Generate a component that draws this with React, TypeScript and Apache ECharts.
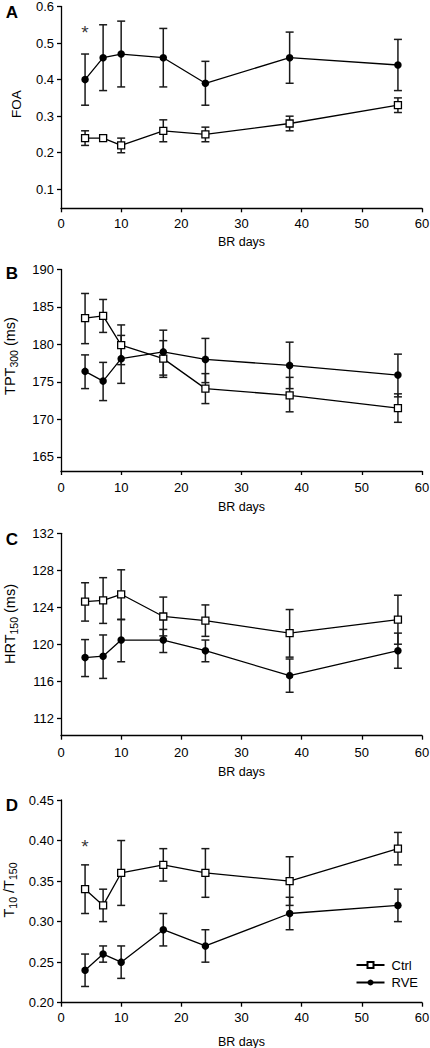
import React, { useEffect, useRef } from "react";
import * as echarts from "echarts";

const FONT = "'Liberation Sans', Arial, Helvetica, sans-serif";

// x categories (bed-rest days)
const days = [4, 7, 10, 17, 24, 38, 56];
const xTicks = [0, 10, 20, 30, 40, 50, 60];

// Panel A: FOA
const foaCtrl = [0.24, 0.24, 0.22, 0.26, 0.25, 0.28, 0.33];
const foaCtrlLow = [0.22, 0.234, 0.2, 0.23, 0.23, 0.26, 0.31];
const foaCtrlHigh = [0.26, 0.246, 0.24, 0.29, 0.27, 0.3, 0.35];
const foaRve = [0.4, 0.46, 0.47, 0.46, 0.39, 0.46, 0.44];
const foaRveLow = [0.33, 0.37, 0.38, 0.38, 0.33, 0.39, 0.37];
const foaRveHigh = [0.47, 0.55, 0.56, 0.54, 0.45, 0.53, 0.51];
const foaTicks = [0.1, 0.2, 0.3, 0.4, 0.5, 0.6];
const foaStar = [[4, 0.54]];

// Panel B: TPT300 (ms)
const tptCtrl = [183.5, 183.8, 179.9, 178.1, 174.1, 173.2, 171.5];
const tptCtrlLow = [180.1, 181.6, 177.3, 175.6, 172.1, 171.0, 169.6];
const tptCtrlHigh = [186.8, 186.0, 182.6, 180.5, 176.1, 175.6, 173.4];
const tptRve = [176.4, 175.1, 178.1, 179.0, 178.0, 177.2, 175.9];
const tptRveLow = [174.1, 172.5, 174.8, 175.9, 174.9, 174.1, 173.0];
const tptRveHigh = [178.6, 177.6, 181.2, 181.9, 180.8, 180.3, 178.7];
const tptTicks = [165, 170, 175, 180, 185, 190];

// Panel C: HRT150 (ms)
const hrtCtrl = [124.6, 124.75, 125.4, 123.0, 122.55, 121.2, 122.65];
const hrtCtrlLow = [122.5, 122.25, 122.7, 120.9, 120.85, 118.6, 120.0];
const hrtCtrlHigh = [126.65, 127.2, 128.05, 125.1, 124.25, 123.75, 125.3];
const hrtRve = [118.55, 118.7, 120.45, 120.45, 119.3, 116.6, 119.3];
const hrtRveLow = [116.5, 116.3, 118.1, 119.1, 118.1, 114.8, 117.4];
const hrtRveHigh = [120.5, 121.0, 122.65, 121.6, 120.45, 118.4, 121.2];
const hrtTicks = [112, 116, 120, 124, 128, 132];

// Panel D: T10/T150
const tRatioCtrl = [0.34, 0.32, 0.36, 0.37, 0.36, 0.35, 0.39];
const tRatioCtrlLow = [0.31, 0.3, 0.32, 0.35, 0.33, 0.32, 0.37];
const tRatioCtrlHigh = [0.37, 0.34, 0.4, 0.39, 0.39, 0.38, 0.41];
const tRatioRve = [0.24, 0.26, 0.25, 0.29, 0.27, 0.31, 0.32];
const tRatioRveLow = [0.22, 0.25, 0.23, 0.27, 0.25, 0.29, 0.3];
const tRatioRveHigh = [0.26, 0.27, 0.27, 0.31, 0.29, 0.33, 0.34];
const tRatioTicks = [0.2, 0.25, 0.3, 0.35, 0.4, 0.45];
const tRatioStar = [[4, 0.397]];

const legendNames = ["Ctrl", "RVE"];

type Panel = {
  top: number;
  height: number;
  min: number;
  max: number;
  ticks: number[];
  dec: number;
  labelMargin: number;
  nameGap: number;
  ctrl: number[];
  ctrlLow: number[];
  ctrlHigh: number[];
  rve: number[];
  rveLow: number[];
  rveHigh: number[];
  star?: number[][];
};

const panels: Panel[] = [
  { top: 6.5, height: 201.8, min: 0.048, max: 0.6, ticks: foaTicks, dec: 1, labelMargin: 8.5, nameGap: 27,
    ctrl: foaCtrl, ctrlLow: foaCtrlLow, ctrlHigh: foaCtrlHigh, rve: foaRve, rveLow: foaRveLow, rveHigh: foaRveHigh, star: foaStar },
  { top: 269.5, height: 201.5, min: 163.1, max: 190, ticks: tptTicks, dec: 0, labelMargin: 10, nameGap: 29,
    ctrl: tptCtrl, ctrlLow: tptCtrlLow, ctrlHigh: tptCtrlHigh, rve: tptRve, rveLow: tptRveLow, rveHigh: tptRveHigh },
  { top: 533.3, height: 202.4, min: 110.1, max: 132, ticks: hrtTicks, dec: 0, labelMargin: 10.5, nameGap: 29.5,
    ctrl: hrtCtrl, ctrlLow: hrtCtrlLow, ctrlHigh: hrtCtrlHigh, rve: hrtRve, rveLow: hrtRveLow, rveHigh: hrtRveHigh },
  { top: 800, height: 202.7, min: 0.2, max: 0.45, ticks: tRatioTicks, dec: 2, labelMargin: 8, nameGap: 32.5,
    ctrl: tRatioCtrl, ctrlLow: tRatioCtrlLow, ctrlHigh: tRatioCtrlHigh, rve: tRatioRve, rveLow: tRatioRveLow, rveHigh: tRatioRveHigh, star: tRatioStar },
];

const AX = { color: "#000", width: 1.3 };

function errorSeries(name: string, lo: number[], hi: number[], idx: number) {
  return {
    type: "custom",
    name,
    xAxisIndex: idx,
    yAxisIndex: idx,
    z: 1,
    silent: true,
    data: days.map((d, i) => [d, lo[i], hi[i]]),
    encode: { x: 0, y: [1, 2] },
    renderItem: (_params: any, api: any) => {
      const x = api.value(0);
      const pl = api.coord([x, api.value(1)]);
      const ph = api.coord([x, api.value(2)]);
      const w = 4;
      const style = { stroke: "#1a1a1a", lineWidth: 1.5, fill: "none" };
      return {
        type: "group",
        children: [
          { type: "line", shape: { x1: ph[0], y1: ph[1], x2: pl[0], y2: pl[1] }, style },
          { type: "line", shape: { x1: ph[0] - w, y1: ph[1], x2: ph[0] + w, y2: ph[1] }, style },
          { type: "line", shape: { x1: pl[0] - w, y1: pl[1], x2: pl[0] + w, y2: pl[1] }, style },
        ],
      };
    },
  };
}

function buildOption() {
  const grid: any[] = [];
  const xAxis: any[] = [];
  const yAxis: any[] = [];
  const series: any[] = [];

  panels.forEach((p, idx) => {
    grid.push({ left: 61, width: 361, top: p.top, height: p.height, containLabel: false, outerBoundsMode: "none" });
    xAxis.push({
      type: "value",
      gridIndex: idx,
      min: 0,
      max: 60,
      interval: 10,
      name: "BR days",
      nameLocation: "middle",
      nameGap: p.nameGap,
      nameTextStyle: { fontFamily: FONT, fontSize: 12.5, color: "#000" },
      axisLine: { show: true, onZero: false, lineStyle: AX },
      axisTick: { show: true, inside: false, length: 4, customValues: xTicks, lineStyle: AX },
      axisLabel: { customValues: xTicks, margin: p.labelMargin, fontFamily: FONT, fontSize: 13, color: "#000" },
      splitLine: { show: false },
    });
    yAxis.push({
      type: "value",
      gridIndex: idx,
      min: p.min,
      max: p.max,
      axisLine: { show: true, onZero: false, lineStyle: AX },
      axisTick: { show: true, inside: false, length: 4, customValues: p.ticks, lineStyle: AX },
      axisLabel: {
        customValues: p.ticks,
        formatter: (v: number) => v.toFixed(p.dec),
        margin: 7,
        fontFamily: FONT,
        fontSize: 13,
        color: "#000",
      },
      splitLine: { show: false },
    });

    series.push(errorSeries("Ctrl error", p.ctrlLow, p.ctrlHigh, idx));
    series.push(errorSeries("RVE error", p.rveLow, p.rveHigh, idx));
    series.push({
      type: "line",
      name: "Ctrl",
      xAxisIndex: idx,
      yAxisIndex: idx,
      z: 3,
      data: days.map((d, i) => [d, p.ctrl[i]]),
      symbol: "rect",
      symbolSize: 7,
      showAllSymbol: true,
      itemStyle: { color: "#fff", borderColor: "#000", borderWidth: 1.3 },
      lineStyle: { color: "#000", width: 1.3 },
    });
    series.push({
      type: "line",
      name: "RVE",
      xAxisIndex: idx,
      yAxisIndex: idx,
      z: 3,
      data: days.map((d, i) => [d, p.rve[i]]),
      symbol: "circle",
      symbolSize: 7.5,
      showAllSymbol: true,
      itemStyle: { color: "#000", borderColor: "#000", borderWidth: 0 },
      lineStyle: { color: "#000", width: 1.3 },
    });
    if (p.star) {
      series.push({
        type: "scatter",
        name: "significance",
        xAxisIndex: idx,
        yAxisIndex: idx,
        z: 4,
        silent: true,
        data: p.star,
        symbolSize: 1,
        itemStyle: { color: "transparent" },
        label: {
          show: true,
          position: "inside",
          formatter: "*",
          fontFamily: FONT,
          fontSize: 19,
          color: "#000",
          offset: [0, 4],
        },
      });
    }
  });

  const letters = [
    { t: "A", y: 12 },
    { t: "B", y: 273 },
    { t: "C", y: 539 },
    { t: "D", y: 805 },
  ];

  const yNames = [
    { text: "{f|FOA}", x: 16, y: 104 },
    { text: "{a|TPT}{s|300}{a| (ms)}", x: 10, y: 356 },
    { text: "{a|HRT}{s|150}{a| (ms)}", x: 10, y: 624 },
    { text: "{a|T}{s|10}{a| /T}{s|150}", x: 9, y: 890 },
  ];

  const graphic: any[] = [
    ...letters.map((l) => ({
      type: "text",
      x: 12,
      y: l.y,
      style: {
        text: l.t,
        fontFamily: FONT,
        fontSize: 17,
        fontWeight: "bold",
        fill: "#000",
        align: "center",
        verticalAlign: "middle",
      },
    })),
    ...yNames.map((n) => ({
      type: "text",
      x: n.x,
      y: n.y,
      rotation: Math.PI / 2,
      style: {
        text: n.text,
        align: "center",
        verticalAlign: "middle",
        fill: "#000",
        fontFamily: FONT,
        rich: {
          f: { fontFamily: FONT, fontSize: 13.5, fill: "#000", lineHeight: 18, verticalAlign: "middle" },
          a: { fontFamily: FONT, fontSize: 14.5, fill: "#000", lineHeight: 19, verticalAlign: "middle" },
          s: { fontFamily: FONT, fontSize: 10.5, fill: "#000", lineHeight: 10, verticalAlign: "bottom" },
        },
      },
    })),
  ];

  return {
    animation: false,
    backgroundColor: "#fff",
    grid,
    xAxis,
    yAxis,
    series,
    graphic,
    legend: {
      data: legendNames,
      orient: "vertical",
      left: 355.5,
      top: 958.5,
      padding: 0,
      itemWidth: 28,
      itemHeight: 7.5,
      itemGap: 4.5,
      selectedMode: false,
      textStyle: { fontFamily: FONT, fontSize: 13, color: "#000", padding: [0, 0, 0, 2] },
    },
  };
}

export default function App() {
  const ref = useRef<HTMLDivElement>(null);
  useEffect(() => {
    if (!ref.current) return;
    const chart = echarts.init(ref.current, undefined, { renderer: "svg" });
    chart.setOption(buildOption() as any);
    return () => chart.dispose();
  }, []);
  return (
    <div
      ref={ref}
      style={{ position: "absolute", left: 0, top: 0, width: 430, height: 1048, background: "#fff" }}
    />
  );
}
